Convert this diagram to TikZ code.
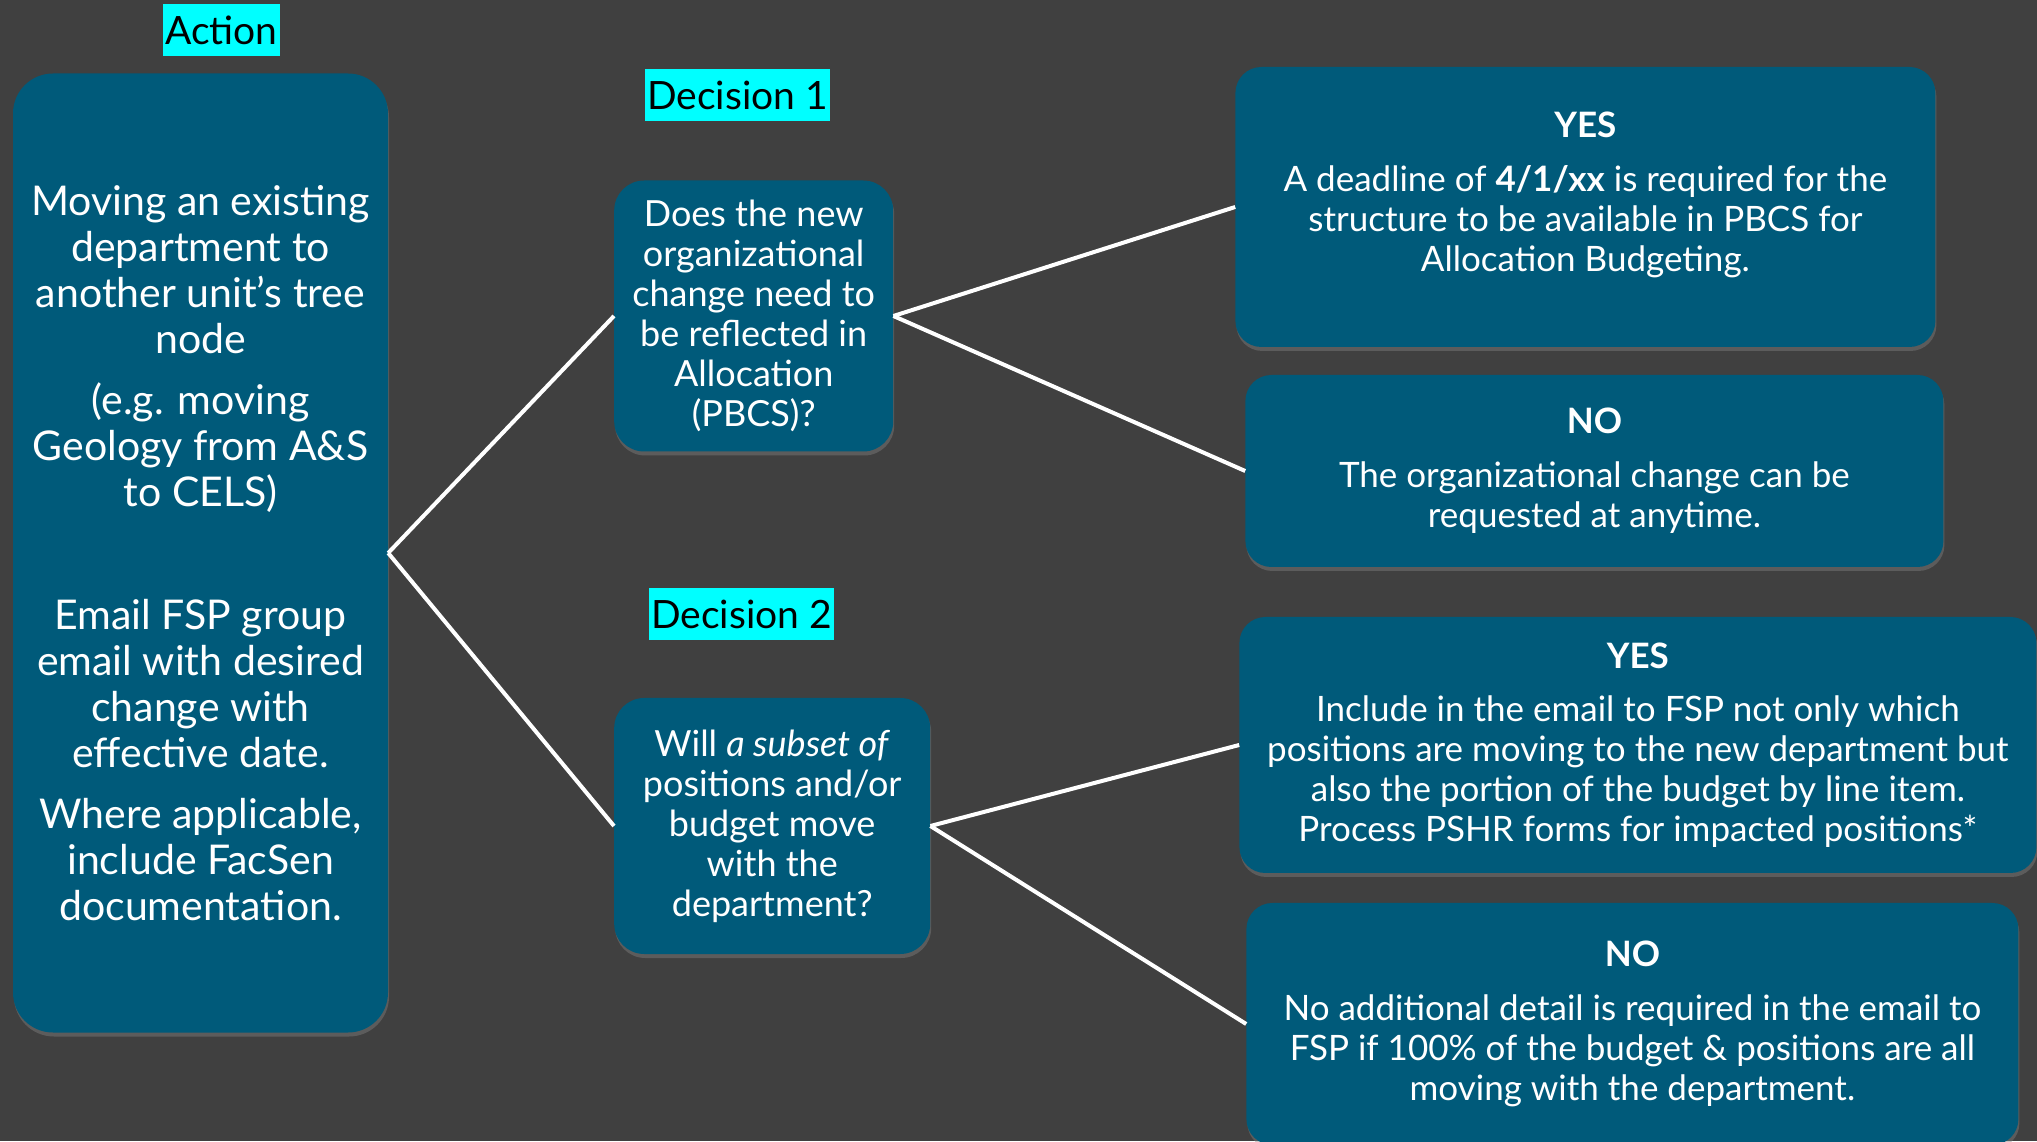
\documentclass[tikz,border=0pt]{standalone}
\usepackage{fontspec}
\setmainfont{Lato}
\usetikzlibrary{shadows}
\definecolor{slate}{HTML}{404040}
\definecolor{boxblue}{HTML}{005A7A}
\definecolor{tagcyan}{HTML}{00FFFF}
\tikzset{
  box/.style={fill=boxblue, text=white, align=center, inner sep=0pt,
    drop shadow={shadow xshift=1pt, shadow yshift=-4pt, opacity=0.45}},
  actbox/.style={box, rounded corners=40pt, minimum width=375pt, minimum height=959pt,
    font=\fontsize{41}{46}\selectfont},
  qbox/.style={box, rounded corners=30pt, anchor=west, font=\fontsize{36}{40}\selectfont},
  ansbox/.style={box, rounded corners=26pt, anchor=west, font=\fontsize{35}{40}\selectfont},
  tag/.style={fill=tagcyan, text=black, inner xsep=2pt, inner ysep=0pt, minimum height=52pt,
    font=\fontsize{39}{44}\selectfont}
}
\begin{document}
\begin{tikzpicture}[x=1pt, y=1pt,
  grow'=right, parent anchor=east, child anchor=west,
  edge from parent/.style={draw=white, line width=4pt},
  level 1/.style={level distance=413.5pt, sibling distance=510pt},
  level 2/.style={level distance=484.5pt, sibling distance=264pt}]
  \fill[slate] (0,0) rectangle (2037,1141);
  \useasboundingbox (0,0) rectangle (2037,1141);
  \node[actbox] (act) at (200.5,588) {Moving an existing\\ department to\\ another unit’s tree\\ node\\[15pt]
      (e.g. moving\\ Geology from A\&S\\ to CELS)\\[77pt]
      Email FSP group\\ email with desired\\ change with\\ effective date.\\[15pt]
      Where applicable,\\ include FacSen\\ documentation.}
    child {node[qbox, minimum width=279pt, minimum height=271pt, yshift=-18pt] (dec1)
        {Does the new\\ organizational\\ change need to\\ be reflected in\\ Allocation\\ (PBCS)?}
      child {node[ansbox, minimum width=700pt, minimum height=280pt, xshift=-3pt, yshift=-23pt] (yes1)
          {{\bfseries YES}\\[14pt] A deadline of \textbf{4/1/xx} is required for the\\
           structure to be available in PBCS for\\ Allocation Budgeting.\\[-10pt]\mbox{}}}
      child {node[ansbox, minimum width=698pt, minimum height=192pt, xshift=7pt, yshift=-23pt] (no1)
          {{\bfseries NO}\\[14pt] The organizational change can be\\ requested at anytime.}}
    }
    child {node[qbox, minimum width=316pt, minimum height=256pt, yshift=-18pt] (dec2)
        {Will \textit{a subset of}\\ positions and/or\\ budget move\\ with the\\ department?}
      child {node[ansbox, minimum width=797pt, minimum height=256pt, xshift=-17.5pt, yshift=-51pt] (yes2)
          {{\bfseries YES}\\[13pt] Include in the email to FSP not only which\\
           positions are moving to the new department but\\
           also the portion of the budget by line item.\\
           Process PSHR forms for impacted positions*}}
      child {node[ansbox, minimum width=772pt, minimum height=242pt, xshift=-10.5pt, yshift=-66pt] (no2)
          {{\bfseries NO}\\[14pt] No additional detail is required in the email to\\
           FSP if 100\% of the budget \& positions are all\\ moving with the department.}}
    };
  % column tags
  \node[tag] (acttag) at (221.5,1111) {Action};
  \node[tag] (dec1tag) at (737.5,1046) {Decision 1};
  \node[tag] (dec2tag) at (741.5,527) {Decision 2};
\end{tikzpicture}
\end{document}
